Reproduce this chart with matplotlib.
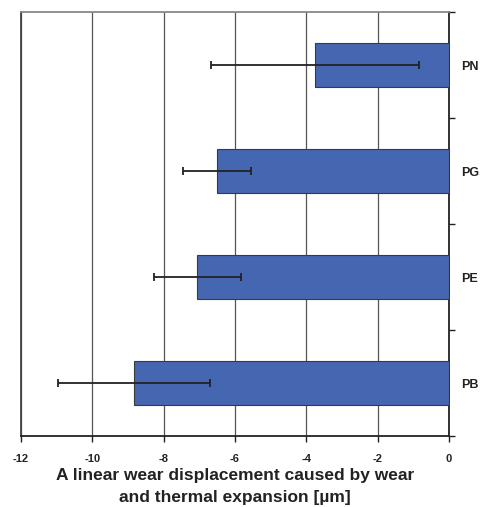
import matplotlib.pyplot as plt
import numpy as np

plt.rcParams['font.family'] = ['Liberation Sans', 'DejaVu Sans']

# data (bottom to top)
groups = ['PB', 'PE', 'PG', 'PN']
wear = [-8.83, -7.06, -6.50, -3.76]
err = [2.12, 1.22, 0.96, 2.91]
xticks = [-12, -10, -8, -6, -4, -2, 0]

fig = plt.figure(figsize=(4.82, 5.07), dpi=100)
ax = fig.add_axes([0.0436, 0.140, 0.8879, 0.836])

y = np.arange(len(groups))
ax.barh(y, wear, height=0.41, color='#4566b0', edgecolor='#3a3a3a', linewidth=0.8, zorder=3)
ax.errorbar(wear, y, xerr=err, fmt='none', ecolor='#222222', elinewidth=1.3,
            capsize=3, capthick=1.3, zorder=4)

ax.set_xlim(-12, 0)
ax.set_ylim(-0.5, len(groups) - 0.5)
ax.set_xticks(xticks)
ax.set_xticklabels([str(t) for t in xticks], fontsize=8, fontweight='bold', color='#222222')
ax.xaxis.grid(True, color='#555555', linewidth=0.9, zorder=0)

# category boundaries as ticks, labels at centres on the right
ax.yaxis.tick_right()
ax.set_yticks(np.arange(-0.5, len(groups), 1.0))
ax.set_yticklabels([])
ax.set_yticks(y, minor=True)
ax.set_yticklabels(groups, minor=True, fontsize=9, fontweight='bold', color='#222222')
ax.tick_params(axis='y', which='major', direction='out', length=4, width=1, color='#222222')
ax.tick_params(axis='y', which='minor', length=0, pad=9)
ax.tick_params(axis='x', direction='out', length=4, width=1, color='#222222', pad=9)

ax.spines['right'].set_color('#222222')
ax.spines['right'].set_linewidth(1.3)
ax.spines['bottom'].set_color('#222222')
ax.spines['bottom'].set_linewidth(1.3)
ax.spines['left'].set_color('#444444')
ax.spines['left'].set_linewidth(1.3)
ax.spines['top'].set_color('#888888')
ax.spines['top'].set_linewidth(1.3)

ax.set_xlabel('A linear wear displacement caused by wear\nand thermal expansion [µm]',
              fontsize=12.5, fontweight='bold', color='#222222', labelpad=3, linespacing=1.55)

fig.savefig('out.png', dpi=100)
